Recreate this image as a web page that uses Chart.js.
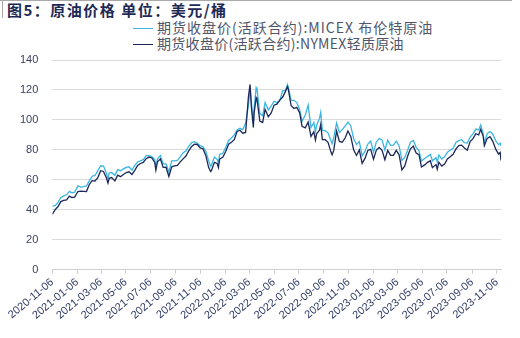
<!DOCTYPE html>
<html>
<head>
<meta charset="utf-8">
<script src="https://cdn.jsdelivr.net/npm/chart.js@4.4.1/dist/chart.umd.min.js"></script>
<style>
  html, body { margin: 0; padding: 0; background: #fff; }
  #wrap { position: relative; width: 520px; height: 338px; overflow: hidden; background: #fff; }
  #topline { position: absolute; left: 0; top: 0; width: 512px; height: 0; border-top: 1px solid #a9a9a9; }
  #leftline { position: absolute; left: 2px; top: 0; width: 0; height: 18px; border-left: 1px solid #a9a9a9; }
  #title { position: absolute; left: 7px; top: 0px; font: bold 15px "Noto Sans CJK SC", sans-serif; color: #1d2a55; white-space: nowrap; letter-spacing: 1.5px; line-height: 19px; }
  .lg { position: absolute; left: 133px; height: 16px; font: 14px "Noto Sans CJK SC", sans-serif; color: #50556a; white-space: nowrap; line-height: 16px; }
  .lg i { display: inline-block; width: 20px; height: 0; vertical-align: middle; margin-right: 4px; position: relative; top: -1px; }
  canvas { position: absolute; left: 0; top: 0; }
</style>
</head>
<body>
<div id="wrap">
  <div id="topline"></div>
  <div id="leftline"></div>
  <div id="title">图5：原油价格 单位：美元/桶</div>
  <div class="lg" id="lg1" style="top:19px;letter-spacing:1px"><i style="border-top:1.5px solid #3bb6e2"></i><span id="lgt1"></span></div>
  <div class="lg" id="lg2" style="top:35px;letter-spacing:0.3px"><i style="border-top:1.5px solid #1b2858"></i><span id="lgt2"></span></div>
  <canvas id="c" width="520" height="338"></canvas>
</div>
<script>
const seriesNames = ["期货收盘价(活跃合约):MICEX 布伦特原油", "期货收盘价(活跃合约):NYMEX轻质原油"];
const tickLabels = ["2020-11-06","2021-01-06","2021-03-06","2021-05-06","2021-07-06","2021-09-06","2021-11-06","2022-01-06","2022-03-06","2022-05-06","2022-07-06","2022-09-06","2022-11-06","2023-01-06","2023-03-06","2023-05-06","2023-07-06","2023-09-06","2023-11-06"];
const dates = [
"2020-11-06","2020-11-13","2020-11-20","2020-11-27","2020-12-04","2020-12-11","2020-12-18","2020-12-24","2020-12-31",
"2021-01-08","2021-01-15","2021-01-22","2021-01-29","2021-02-05","2021-02-12","2021-02-19","2021-02-26","2021-03-05","2021-03-12","2021-03-19","2021-03-23","2021-03-26",
"2021-04-01","2021-04-09","2021-04-16","2021-04-23","2021-04-30","2021-05-07","2021-05-14","2021-05-21","2021-05-28","2021-06-04","2021-06-11","2021-06-18","2021-06-25",
"2021-07-02","2021-07-09","2021-07-16","2021-07-19","2021-07-23","2021-07-30","2021-08-06","2021-08-13","2021-08-20","2021-08-27","2021-09-03","2021-09-10","2021-09-17","2021-09-24",
"2021-10-01","2021-10-08","2021-10-15","2021-10-22","2021-10-29","2021-11-05","2021-11-12","2021-11-19","2021-11-26","2021-12-01","2021-12-03","2021-12-10","2021-12-17","2021-12-20","2021-12-23","2021-12-31",
"2022-01-07","2022-01-14","2022-01-21","2022-01-28","2022-02-04","2022-02-11","2022-02-18","2022-02-25","2022-03-04","2022-03-08","2022-03-11","2022-03-16","2022-03-18","2022-03-23","2022-03-25",
"2022-04-01","2022-04-08","2022-04-14","2022-04-22","2022-04-29","2022-05-06","2022-05-13","2022-05-20","2022-05-27","2022-06-03","2022-06-08","2022-06-10","2022-06-17","2022-06-24",
"2022-07-01","2022-07-08","2022-07-14","2022-07-22","2022-07-29","2022-08-05","2022-08-12","2022-08-16","2022-08-19","2022-08-26","2022-08-29","2022-09-02","2022-09-09","2022-09-16","2022-09-23","2022-09-26","2022-09-30",
"2022-10-07","2022-10-14","2022-10-21","2022-10-28","2022-11-04","2022-11-11","2022-11-18","2022-11-25","2022-12-02","2022-12-09","2022-12-16","2022-12-23","2022-12-30",
"2023-01-06","2023-01-13","2023-01-20","2023-01-27","2023-02-03","2023-02-10","2023-02-17","2023-02-24","2023-03-03","2023-03-10","2023-03-17","2023-03-24","2023-03-31",
"2023-04-07","2023-04-14","2023-04-21","2023-04-28","2023-05-04","2023-05-12","2023-05-19","2023-05-26","2023-05-31","2023-06-09","2023-06-12","2023-06-16","2023-06-23","2023-06-30",
"2023-07-07","2023-07-14","2023-07-21","2023-07-28","2023-08-04","2023-08-11","2023-08-18","2023-08-25","2023-09-01","2023-09-08","2023-09-15","2023-09-22","2023-09-27",
"2023-10-03","2023-10-06","2023-10-13","2023-10-20","2023-10-27","2023-11-03","2023-11-10","2023-11-14","2023-11-16"
];
const brent = [
42.4,42.8,45.0,48.2,49.3,50.0,52.3,51.3,51.8,
56.0,55.1,55.4,55.9,59.3,62.4,62.9,66.1,69.4,69.2,64.5,60.8,64.6,
64.9,63.0,66.8,66.1,67.3,68.3,68.7,66.4,69.6,71.9,72.7,73.5,76.2,
76.2,75.6,73.6,68.6,74.1,76.3,70.7,70.6,65.2,72.7,72.6,72.9,75.3,78.1,
79.3,82.4,84.9,85.5,84.4,82.7,82.2,78.9,72.7,68.9,69.9,75.2,73.5,71.5,76.9,77.8,
81.8,86.1,87.9,90.0,93.3,94.4,93.5,97.9,110.0,121.0,112.7,98.0,107.9,121.6,120.7,
104.4,102.8,111.7,106.7,109.3,112.4,111.6,112.6,119.4,119.7,123.6,122.0,113.1,113.1,
111.6,107.0,99.1,103.2,110.0,94.9,98.2,92.3,96.7,101.0,105.1,93.0,92.8,91.4,86.2,84.1,88.0,
97.9,91.6,93.5,95.8,98.6,96.0,87.6,83.6,85.6,76.1,79.0,83.9,85.9,
78.6,85.3,87.6,86.7,79.9,86.4,83.0,83.2,85.8,82.8,73.0,75.0,79.8,
85.1,86.3,81.7,79.5,72.5,74.2,75.6,77.0,72.7,74.8,71.8,76.6,73.9,75.4,
78.5,79.9,81.1,85.0,86.2,86.8,84.8,84.5,88.6,90.7,93.9,93.3,96.6,
90.9,84.6,90.9,92.2,90.5,86.0,83.5,84.5,82.5
];
const wti = [
37.1,40.1,42.2,45.5,46.3,46.6,49.1,48.2,48.5,
52.2,52.4,52.3,52.2,56.9,59.5,59.2,61.5,66.1,65.6,61.4,57.8,61.0,
61.5,59.3,63.1,62.1,63.6,64.9,65.4,63.6,66.3,69.6,70.9,71.6,74.1,
75.2,74.6,71.8,66.4,72.1,74.0,68.3,68.4,62.3,68.7,69.3,69.7,72.0,74.0,
75.9,79.4,82.3,83.8,83.6,81.3,80.8,76.1,68.2,65.6,66.3,71.7,70.9,68.2,73.8,75.2,
78.9,83.8,85.1,86.8,92.3,93.1,91.1,91.6,115.7,123.7,109.3,95.0,104.7,114.9,113.9,
99.3,98.3,107.0,102.1,104.7,109.8,110.5,113.2,115.1,118.9,122.1,120.7,109.6,107.6,
108.4,104.8,95.8,94.7,98.6,89.0,92.1,86.5,90.8,93.1,97.0,86.9,86.8,85.1,78.7,76.7,79.5,
92.6,85.6,85.1,87.9,92.6,89.0,80.1,76.3,80.0,71.0,74.3,79.6,80.3,
73.8,79.9,81.6,79.7,73.4,79.7,76.3,76.3,79.7,76.7,66.7,69.3,75.7,
80.7,82.5,77.9,76.8,68.6,70.0,71.7,72.7,68.1,70.2,67.1,71.8,69.2,70.6,
73.9,75.4,77.1,80.6,82.8,83.2,81.3,79.8,85.6,87.5,90.8,90.0,93.7,
89.2,82.8,87.7,88.8,85.5,80.5,77.2,78.3,72.9
];

const DAY = 86400000;
function dayNum(s) {
  const p = s.split("-").map(Number);
  return (Date.UTC(p[0], p[1] - 1, p[2]) - Date.UTC(2020, 10, 6)) / DAY;
}
const tickDays = tickLabels.map(dayNum);
const toPoints = vals => vals.map((v, i) => ({ x: dayNum(dates[i]), y: v }));

document.getElementById("lgt1").textContent = seriesNames[0];
document.getElementById("lgt2").textContent = seriesNames[1];

new Chart(document.getElementById("c"), {
  type: "line",
  data: {
    datasets: [
      { label: seriesNames[0], data: toPoints(brent), borderColor: "#3bb6e2", borderWidth: 1.3, pointRadius: 0, tension: 0, order: 1 },
      { label: seriesNames[1], data: toPoints(wti), borderColor: "#1b2858", borderWidth: 1.3, pointRadius: 0, tension: 0, order: 0 }
    ]
  },
  options: {
    responsive: false,
    animation: false,
    layout: { padding: { top: 60, left: 6, right: 19, bottom: 14 } },
    plugins: { legend: { display: false }, tooltip: { enabled: false } },
    scales: {
      x: {
        type: "linear",
        min: 0,
        max: dayNum(dates[dates.length - 1]),
        afterBuildTicks: s => { s.ticks = tickDays.map(v => ({ value: v })); },
        ticks: {
          autoSkip: false,
          minRotation: 40,
          maxRotation: 40,
          padding: 2,
          color: "#2f3b66",
          font: { family: "Liberation Sans, Arial, sans-serif", size: 11 },
          callback: (v) => { const i = tickDays.indexOf(v); return i >= 0 ? tickLabels[i] : ""; }
        },
        grid: { drawOnChartArea: false, drawTicks: true, tickLength: 4, color: "#cfcfcf" },
        border: { display: true, color: "#cfcfcf" }
      },
      y: {
        min: 0,
        max: 140,
        ticks: {
          stepSize: 20,
          padding: 14,
          color: "#3a4262",
          font: { family: "Liberation Sans, Arial, sans-serif", size: 11 }
        },
        grid: { color: "#dadada", drawTicks: false },
        border: { display: false }
      }
    }
  }
});
</script>
</body>
</html>
